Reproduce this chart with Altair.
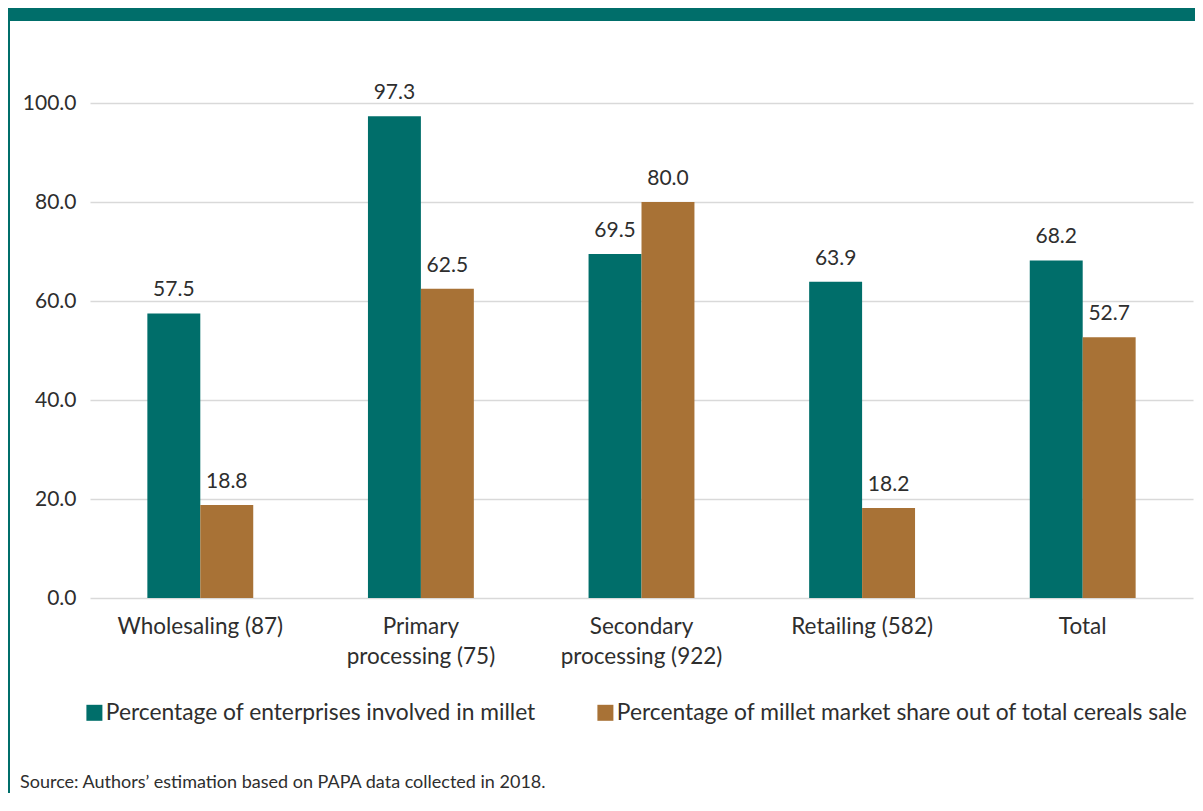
import altair as alt
import pandas as pd

categories = ["Wholesaling (87)", "Primary\nprocessing (75)", "Secondary\nprocessing (922)", "Retailing (582)", "Total"]
series_names = ["Percentage of enterprises involved in millet",
                "Percentage of millet market share out of total cereals sale"]
enterprises = [57.5, 97.3, 69.5, 63.9, 68.2]
market_share = [18.8, 62.5, 80.0, 18.2, 52.7]
y_ticks = [0, 20, 40, 60, 80, 100]
source_text = "Source: Authors\u2019 estimation based on PAPA data collected in 2018."

TEAL = "#006E6A"
BROWN = "#A87236"
TXT = "#2e2e2e"
FONT = "Lato"

rows = []
for c, a, b in zip(categories, enterprises, market_share):
    rows.append({"cat": c, "series": series_names[0], "value": a})
    rows.append({"cat": c, "series": series_names[1], "value": b})
df = pd.DataFrame(rows)

x_enc = alt.X("cat:N", sort=categories, title=None,
              scale=alt.Scale(paddingInner=0.52, paddingOuter=0.26),
              axis=alt.Axis(labelAngle=0, labelExpr="split(datum.label, '\\n')",
                            labelFontSize=22.5, labelFont=FONT, labelColor=TXT,
                            labelPadding=17, labelLineHeight=30, ticks=False, domain=False))
xo_enc = alt.XOffset("series:N", sort=series_names, scale=alt.Scale(paddingInner=0, paddingOuter=0))
y_enc = alt.Y("value:Q", title=None, scale=alt.Scale(domain=[0, 100], nice=False),
              axis=alt.Axis(values=y_ticks, format=".1f", labelFontSize=21, labelFont=FONT,
                            labelColor=TXT, labelPadding=14, ticks=False, domain=False,
                            gridColor="#d9d9d9", gridWidth=1.5))

bars = alt.Chart(df).mark_bar().encode(
    x=x_enc, xOffset=xo_enc, y=y_enc,
    color=alt.Color("series:N", sort=series_names,
                    scale=alt.Scale(domain=series_names, range=[TEAL, BROWN]),
                    legend=alt.Legend(title=None, orient="none", legendX=-7, legendY=598,
                                      direction="horizontal", symbolType="square",
                                      symbolSize=256, symbolStrokeWidth=0,
                                      labelFontSize=22.8, labelFont=FONT, labelColor=TXT,
                                      labelOffset=0, columnPadding=58, padding=0,
                                      labelLimit=800))
)

labels = alt.Chart(df).mark_text(baseline="alphabetic", dy=-17, fontSize=21, font=FONT, color=TXT).encode(
    x=alt.X("cat:N", sort=categories), xOffset=alt.XOffset("series:N", sort=series_names),
    y="value:Q", text=alt.Text("value:Q", format=".1f")
)

src = alt.Chart(pd.DataFrame({"t": [source_text]})).mark_text(
    align="left", baseline="alphabetic", fontSize=18, font=FONT, color=TXT
).encode(x=alt.value(-70), y=alt.value(685), text="t:N")

deco = pd.DataFrame({"k": ["band"]})
top_band = alt.Chart(deco).mark_rect(color=TEAL).encode(
    x=alt.value(-82), x2=alt.value(1105), y=alt.value(-95), y2=alt.value(-82))
left_border = alt.Chart(deco).mark_rect(color=TEAL).encode(
    x=alt.value(-82), x2=alt.value(-80), y=alt.value(-95), y2=alt.value(690))

chart = alt.layer(top_band, left_border, bars, labels, src).properties(
    width=1103, height=495,
    autosize=alt.AutoSizeParams(type="none"),
    padding={"left": 82, "top": 95, "right": 2, "bottom": 195},
    background="white"
).configure_view(stroke=None)

chart.save("out.html", embed_options={"renderer": "svg", "actions": False})
